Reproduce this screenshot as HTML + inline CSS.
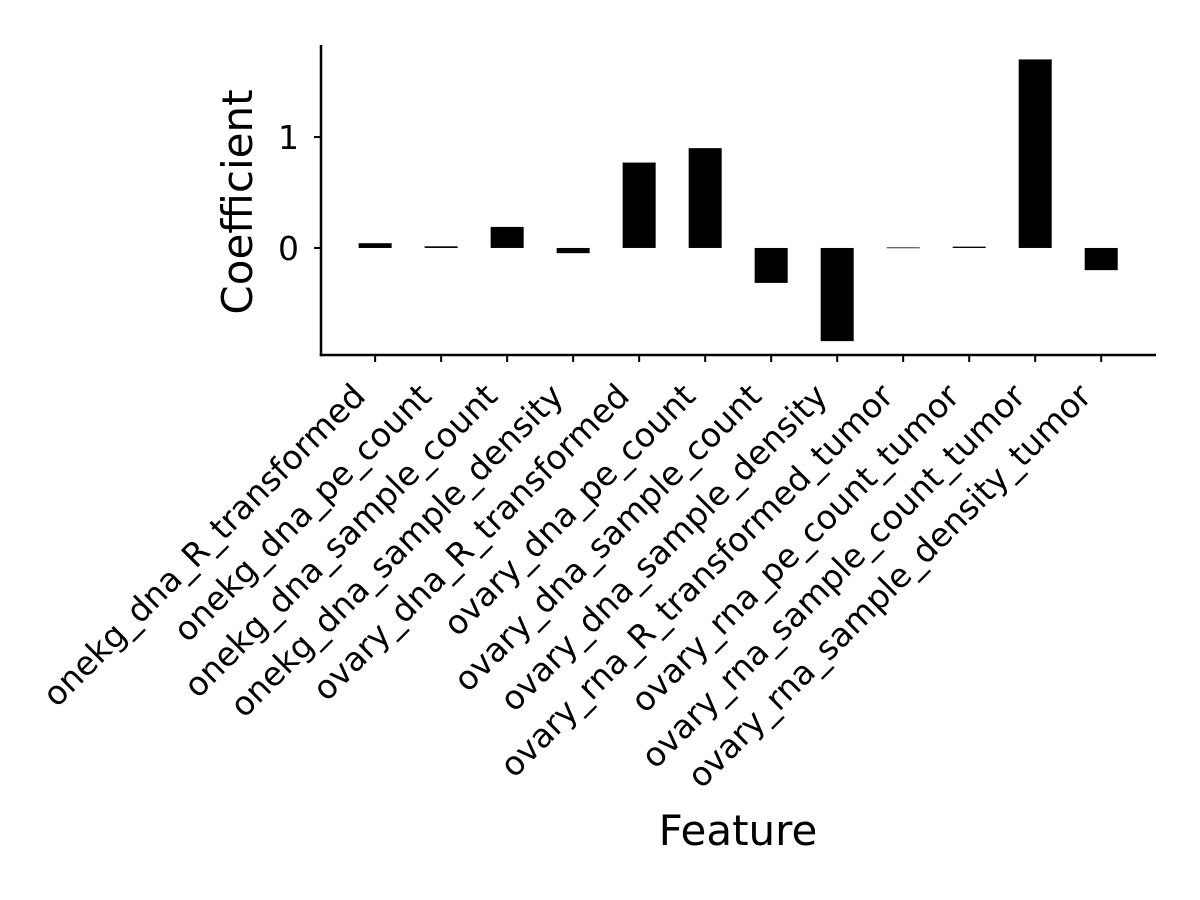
<!DOCTYPE html>
<html><head><meta charset="utf-8"><style>body{margin:0;background:#fff}svg{display:block;font-family:"DejaVu Sans","Liberation Sans",sans-serif}</style></head>
<body>
<svg id="chart" width="1200" height="900"></svg>
<script>
const categories = ["onekg_dna_R_transformed","onekg_dna_pe_count","onekg_dna_sample_count","onekg_dna_sample_density","ovary_dna_R_transformed","ovary_dna_pe_count","ovary_dna_sample_count","ovary_dna_sample_density","ovary_rna_R_transformed_tumor","ovary_rna_pe_count_tumor","ovary_rna_sample_count_tumor","ovary_rna_sample_density_tumor"];
const coefficients = [0.043, 0.015, 0.19, -0.047, 0.77, 0.9, -0.315, -0.84, 0.005, 0.012, 1.70, -0.2];
const yTicks = [0, 1];
const yTickLabels = ["0", "1"];

const NS = "http://www.w3.org/2000/svg";
const svgEl = document.getElementById("chart");
const plotLeft = 321, plotRight = 1156, plotTop = 45, plotBottom = 355;
const yMin = -0.965, yMax = 1.83;
const xMin = -0.82, xMax = 11.83;
const xs = i => plotLeft + (i - xMin) / (xMax - xMin) * (plotRight - plotLeft);
const ys = v => plotBottom - (v - yMin) / (yMax - yMin) * (plotBottom - plotTop);
function mk(tag, attrs, parent) {
  const e = document.createElementNS(NS, tag);
  for (const k in attrs) e.setAttribute(k, attrs[k]);
  (parent || svgEl).appendChild(e);
  return e;
}
const barW = 0.5 * (xs(1) - xs(0));
const bars = mk("g", {});


coefficients.forEach((v, i) => {
  const y0 = ys(0), y1 = ys(v);
  const r = mk("rect", {x: xs(i) - barW/2, y: Math.min(y0, y1), width: barW, height: Math.max(Math.abs(y1 - y0), 0.8), fill: "#000"}, bars);
  
  
});
const ya = mk("line", {x1: plotLeft, y1: plotTop, x2: plotLeft, y2: plotBottom + 1.2, stroke: "#000", "stroke-width": 2.5});


const xa = mk("line", {x1: plotLeft - 1.2, y1: plotBottom, x2: plotRight, y2: plotBottom, stroke: "#000", "stroke-width": 2.5});


yTicks.forEach((t, k) => {
  const y = ys(t);
  const tk = mk("line", {x1: plotLeft - 7, y1: y, x2: plotLeft, y2: y, stroke: "#000", "stroke-width": 2});
  
  
  const tl = mk("text", {x: plotLeft - 22, y: y + 12, "text-anchor": "end", "font-size": 33});
  tl.textContent = yTickLabels[k];
  
  
});
categories.forEach((c, i) => {
  const x = xs(i);
  const tk = mk("line", {x1: x, y1: plotBottom, x2: x, y2: plotBottom + 7, stroke: "#000", "stroke-width": 2});
  
  
  const tx = x - 8, ty = plotBottom + 43;
  const tl = mk("text", {x: tx, y: ty, "text-anchor": "end", "font-size": 33, transform: `rotate(-45 ${tx} ${ty})`});
  tl.textContent = c;
  
  
});
const yc = (plotTop + plotBottom) / 2 + 2;
const yt = mk("text", {x: 252, y: yc, "text-anchor": "middle", "font-size": 42, transform: `rotate(-90 252 ${yc})`});
yt.textContent = "Coefficient";


const xt = mk("text", {x: 738, y: 845, "text-anchor": "middle", "font-size": 42});
xt.textContent = "Feature";


</script>
</body></html>
